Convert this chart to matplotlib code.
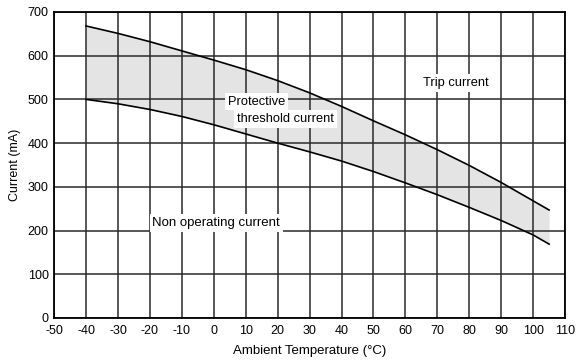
import matplotlib
matplotlib.use("Agg")
import matplotlib.pyplot as plt
import numpy as np

plt.rcParams['font.family'] = ['Liberation Sans', 'DejaVu Sans']
plt.rcParams['axes.unicode_minus'] = False

temps = [-40, -30, -20, -10, 0, 10, 20, 30, 40, 50, 60, 70, 80, 90, 100, 105]
trip = [668, 651, 632, 611, 590, 568, 543, 515, 484, 451, 419, 385, 349, 310, 268, 247]
hold = [500, 490, 477, 461, 442, 421, 400, 380, 359, 335, 309, 282, 253, 223, 190, 169]

xticks = np.arange(-50, 111, 10)
yticks = np.arange(0, 701, 100)

fig = plt.figure(figsize=(5.76, 3.63), dpi=100)
ax = fig.add_axes([0.094, 0.124, 0.887, 0.843])

ax.fill_between(temps, hold, trip, color="#e4e4e4", lw=0, zorder=1)
ax.plot(temps, trip, color="black", lw=1.2, zorder=3)
ax.plot(temps, hold, color="black", lw=1.2, zorder=3)

ax.set_xlim(-50, 110)
ax.set_ylim(0, 700)
ax.set_xticks(xticks)
ax.set_yticks(yticks)
ax.grid(True, color="#2a2a2a", lw=1.1, zorder=2)
ax.set_axisbelow(False)
ax.tick_params(length=0, labelsize=9)
ax.tick_params(axis="x", pad=5)
ax.tick_params(axis="y", pad=4)
for s in ax.spines.values():
    s.set_linewidth(1.3)
    s.set_zorder(4)

ax.set_xlabel("Ambient Temperature (°C)", fontsize=9.5, labelpad=6)
ax.set_ylabel("Current (mA)", fontsize=9, labelpad=5)

box = dict(facecolor="white", edgecolor="none", pad=2)
ax.text(4.5, 495, "Protective", fontsize=9.3, va="center", ha="left", bbox=box, zorder=5)
ax.text(7.3, 455, "threshold current", fontsize=9.3, va="center", ha="left", bbox=box, zorder=5)
ax.text(75.7, 537, "Trip current", fontsize=9.3, va="center", ha="center", bbox=box, zorder=5)
ax.text(0.8, 217, "Non operating current", fontsize=9.5, va="center", ha="center", bbox=box, zorder=5)

fig.savefig("out.png", dpi=100)
